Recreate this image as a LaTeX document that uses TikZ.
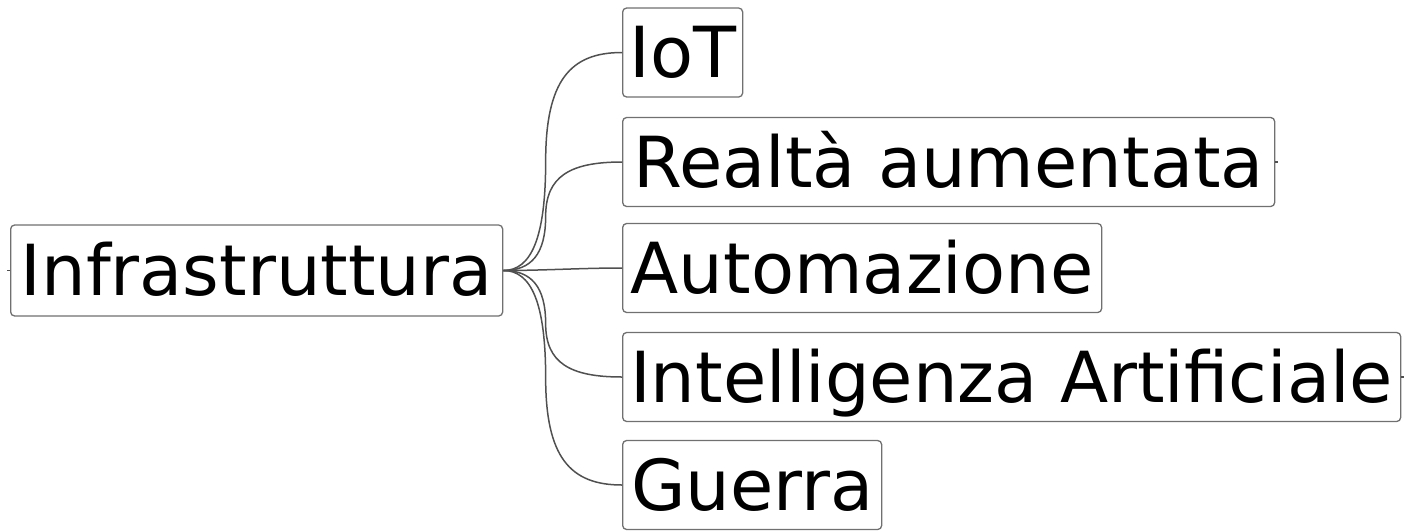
\documentclass[tikz,border=0pt]{standalone}
\usepackage{fontspec}
\setmainfont{DejaVu Sans}
\usetikzlibrary{calc}
\definecolor{boxgray}{HTML}{707070}
\definecolor{linkgray}{HTML}{505050}
\begin{document}
\begin{tikzpicture}[x=1pt,y=-1pt,
  box/.style={draw=boxgray, line width=1.3pt, rounded corners=4pt, fill=white,
    font=\fontsize{70.4pt}{85pt}\selectfont, text height=50pt, text depth=0pt,
    inner xsep=0pt, inner ysep=0pt, minimum height=89pt, anchor=west},
  link/.style={draw=linkgray, line width=1.5pt}]
\useasboundingbox (0,0) rectangle (1404,531);
\node[box, minimum width=492pt, minimum height=91pt] (root) at (10,270.5) {Infrastruttura};
\node[box, minimum width=120pt] (iot)  at (622,52.5) {IoT};
\node[box, minimum width=652pt] (real) at (622,162) {Realtà aumentata};
\node[box, minimum width=479pt] (auto) at (622,268) {Automazione};
\node[box, minimum width=778pt] (ai)   at (622,377) {Intelligenza Artificiale};
\node[box, minimum width=259pt] (war)  at (622,485) {Guerra};
\foreach \c/\h in {iot/-109, real/-54, ai/53, war/107}
  \draw[link] (root.east) .. controls +(28,0) and +(0,-0.7*\h) ..
    ($(root.east)!0.5!(\c.west)+(-17,0)$)
    .. controls +(0,0.74*\h) and +(-52,0) .. (\c.west);
\draw[link] (root.east) .. controls +(40,0) and +(-40,0) .. (auto.west);
\draw[link] (root.west) -- ++(-3,0);
\draw[link] (real.east) -- ++(3,0);
\draw[link] (ai.east) -- ++(3,0);
\end{tikzpicture}
\end{document}
